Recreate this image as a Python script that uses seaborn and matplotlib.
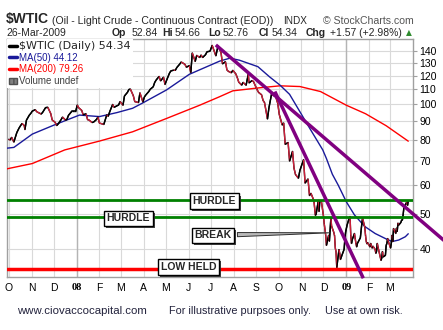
import numpy as np
import pandas as pd
import matplotlib
matplotlib.use("Agg")
import matplotlib.pyplot as plt
import matplotlib.dates as mdates
from matplotlib.collections import LineCollection
from matplotlib.lines import Line2D
from matplotlib.patches import Patch
from matplotlib.ticker import FixedLocator, FixedFormatter, NullLocator
import matplotlib.patheffects as pe
import seaborn as sns

# ---------------- data ----------------
price_dates = [
    "2007-10-01", "2007-10-03", "2007-10-05", "2007-10-08", "2007-10-10", "2007-10-12",
    "2007-10-15", "2007-10-17", "2007-10-19", "2007-10-22", "2007-10-23", "2007-10-25",
    "2007-10-29", "2007-10-31", "2007-11-02", "2007-11-06", "2007-11-08", "2007-11-12",
    "2007-11-14", "2007-11-16", "2007-11-20", "2007-11-23", "2007-11-27", "2007-11-29",
    "2007-12-03", "2007-12-05", "2007-12-07", "2007-12-11", "2007-12-13", "2007-12-17",
    "2007-12-19", "2007-12-21", "2007-12-26", "2007-12-28", "2007-12-31",
    "2008-01-02", "2008-01-04", "2008-01-08", "2008-01-10", "2008-01-14", "2008-01-16",
    "2008-01-18", "2008-01-22", "2008-01-24", "2008-01-28", "2008-01-30", "2008-02-01",
    "2008-02-05", "2008-02-07", "2008-02-11", "2008-02-13", "2008-02-15", "2008-02-19",
    "2008-02-21", "2008-02-25", "2008-02-27", "2008-02-29", "2008-03-04", "2008-03-06",
    "2008-03-10", "2008-03-12", "2008-03-14", "2008-03-18", "2008-03-20", "2008-03-25",
    "2008-03-27", "2008-03-31", "2008-04-02", "2008-04-04", "2008-04-08", "2008-04-10",
    "2008-04-14", "2008-04-16", "2008-04-18", "2008-04-22", "2008-04-24", "2008-04-28",
    "2008-04-30", "2008-05-02", "2008-05-06", "2008-05-08", "2008-05-12", "2008-05-14",
    "2008-05-16", "2008-05-20", "2008-05-22", "2008-05-27", "2008-05-29", "2008-06-02",
    "2008-06-04", "2008-06-06", "2008-06-10", "2008-06-12", "2008-06-16", "2008-06-18",
    "2008-06-20", "2008-06-24", "2008-06-26", "2008-06-30", "2008-07-03", "2008-07-08",
    "2008-07-11", "2008-07-15", "2008-07-17", "2008-07-21", "2008-07-23", "2008-07-25",
    "2008-07-29", "2008-07-31", "2008-08-04", "2008-08-06", "2008-08-08", "2008-08-12",
    "2008-08-14", "2008-08-18", "2008-08-21", "2008-08-22", "2008-08-26", "2008-08-28",
    "2008-09-02", "2008-09-04", "2008-09-08", "2008-09-10", "2008-09-12", "2008-09-16",
    "2008-09-18", "2008-09-22", "2008-09-24", "2008-09-26", "2008-09-30", "2008-10-02",
    "2008-10-06", "2008-10-08", "2008-10-10", "2008-10-14", "2008-10-16", "2008-10-20",
    "2008-10-22", "2008-10-24", "2008-10-28", "2008-10-30", "2008-11-04", "2008-11-06",
    "2008-11-10", "2008-11-12", "2008-11-14", "2008-11-18", "2008-11-20", "2008-11-21",
    "2008-11-24", "2008-11-25", "2008-11-26", "2008-11-28",
    "2008-12-01", "2008-12-02", "2008-12-04", "2008-12-05", "2008-12-08", "2008-12-09",
    "2008-12-11", "2008-12-12", "2008-12-15", "2008-12-16", "2008-12-17", "2008-12-18",
    "2008-12-19", "2008-12-22", "2008-12-23", "2008-12-24", "2008-12-26", "2008-12-29",
    "2008-12-30", "2008-12-31", "2009-01-02", "2009-01-05", "2009-01-06", "2009-01-07",
    "2009-01-08", "2009-01-09", "2009-01-12", "2009-01-13", "2009-01-14", "2009-01-15",
    "2009-01-16", "2009-01-20", "2009-01-21", "2009-01-22", "2009-01-23", "2009-01-26",
    "2009-01-27", "2009-01-28", "2009-01-29", "2009-01-30", "2009-02-02", "2009-02-03",
    "2009-02-04", "2009-02-05", "2009-02-06", "2009-02-09", "2009-02-10", "2009-02-11",
    "2009-02-12", "2009-02-13", "2009-02-17", "2009-02-18", "2009-02-19", "2009-02-20",
    "2009-02-23", "2009-02-24", "2009-02-25", "2009-02-26", "2009-02-27", "2009-03-02",
    "2009-03-03", "2009-03-04", "2009-03-05", "2009-03-06", "2009-03-09", "2009-03-10",
    "2009-03-11", "2009-03-12", "2009-03-13", "2009-03-16", "2009-03-17", "2009-03-18",
    "2009-03-19", "2009-03-20", "2009-03-23", "2009-03-24", "2009-03-25", "2009-03-26",
]
price_values = [
    80.2, 79.9, 81.2, 78.8, 81.3, 83.7,
    86.1, 87.4, 88.6, 87.6, 85.3, 90.5,
    93.5, 94.5, 95.9, 96.7, 95.5, 94.6,
    94.1, 95.1, 98.0, 98.2, 94.4, 90.6,
    89.3, 87.5, 88.3, 90.8, 92.3, 90.6,
    91.0, 93.3, 96.0, 96.0, 96.0,
    99.6, 97.9, 96.3, 93.7, 94.2, 90.8,
    90.6, 89.2, 89.4, 90.9, 92.3, 88.9,
    88.4, 88.1, 93.6, 92.8, 95.5, 100.0,
    98.2, 99.2, 99.6, 101.8, 99.5, 105.5,
    107.9, 109.9, 110.2, 105.7, 101.8, 101.2,
    107.6, 101.6, 104.8, 106.2, 108.5, 110.1,
    111.8, 114.9, 116.7, 119.4, 116.1, 118.8,
    113.5, 116.3, 121.8, 123.7, 124.2, 124.1,
    126.3, 129.1, 130.8, 128.9, 126.6, 127.8,
    122.3, 138.5, 131.3, 136.4, 134.6, 136.7,
    134.6, 137.0, 139.6, 140.0, 145.3, 136.0,
    145.1, 138.7, 129.3, 131.0, 124.4, 123.3,
    122.2, 124.1, 121.4, 118.6, 115.2, 113.0,
    115.0, 112.9, 121.2, 114.6, 116.3, 115.6,
    109.7, 107.9, 106.3, 102.6, 101.2, 91.2,
    97.9, 108.0, 105.7, 106.9, 100.6, 93.9,
    87.8, 88.9, 77.7, 78.6, 69.9, 74.3,
    66.8, 64.2, 62.7, 65.9, 70.5, 60.8,
    62.4, 56.2, 57.0, 54.4, 49.6, 49.9,
    54.5, 50.8, 54.4, 54.4,
    49.3, 47.0, 43.7, 41.0, 43.7, 42.1,
    48.7, 46.3, 44.5, 43.6, 40.3, 39.4,
    35.6, 39.9, 39.0, 37.5, 38.5, 40.0,
    42.8, 44.6, 46.6, 48.8, 49.2, 43.7,
    41.5, 42.5, 44.2, 42.8, 41.5, 40.6,
    41.5, 43.0, 45.1, 47.0, 48.7, 46.0,
    43.7, 42.0, 41.4, 41.7, 40.6, 41.5,
    40.8, 40.3, 40.8, 40.0, 39.0, 39.5,
    41.5, 40.5, 37.3, 37.8, 39.4, 38.1,
    38.5, 41.0, 41.5, 42.8, 42.0, 40.3,
    41.6, 43.7, 42.0, 45.6, 44.2, 45.7,
    44.8, 47.2, 46.6, 47.4, 48.1, 48.1,
    49.7, 51.9, 53.5, 53.9, 52.8, 54.34,
]

ma50_dates = [
    "2007-09-28", "2007-10-08", "2007-11-02", "2007-12-04", "2008-01-05", "2008-02-01",
    "2008-02-25", "2008-03-17", "2008-03-31", "2008-05-02", "2008-06-02", "2008-06-16",
    "2008-07-13", "2008-07-27", "2008-08-09", "2008-09-03", "2008-09-19", "2008-10-03",
    "2008-10-16", "2008-10-30", "2008-11-12", "2008-11-30", "2008-12-05", "2008-12-13",
    "2008-12-21", "2009-01-01", "2009-01-12", "2009-01-26", "2009-02-09", "2009-02-23",
    "2009-03-04", "2009-03-13", "2009-03-22", "2009-03-26",
]
ma50_values = [
    75.8, 76.2, 82.9, 88.2, 93.5, 92.6,
    95.0, 97.6, 101.0, 109.6, 121.0, 124.5,
    131.5, 134.0, 132.3, 127.0, 119.0, 113.0,
    106.6, 95.5, 86.2, 75.0, 71.0, 64.3,
    60.0, 54.0, 49.7, 46.2, 44.2, 42.8,
    42.0, 42.4, 43.3, 44.12,
]

ma200_dates = [
    "2007-09-28", "2007-11-02", "2007-12-16", "2008-02-01", "2008-03-17", "2008-05-02",
    "2008-06-16", "2008-07-13", "2008-07-31", "2008-09-05", "2008-10-03", "2008-10-30",
    "2008-11-27", "2009-01-01", "2009-01-27", "2009-02-24", "2009-03-26",
]
ma200_values = [
    66.5, 68.8, 75.0, 79.3, 84.1, 91.5,
    99.5, 105.0, 109.0, 111.1, 112.5, 112.0,
    108.5, 99.5, 94.3, 87.4, 79.26,
]

hurdle_levels = [54.6, 49.1]
low_held_level = 35.4

trend_a_dates = ["2008-07-08", "2009-05-20"]
trend_a_values = [145.7, 41.2]
trend_b_dates = ["2008-09-26", "2009-01-24"]
trend_b_values = [108.5, 33.3]

month_labels = ["O", "N", "D", "08", "F", "M", "A", "M", "J", "J", "A", "S",
                "O", "N", "D", "09", "F", "M"]
ytick_values = [40, 50, 60, 70, 80, 90, 100, 110, 120, 130, 140]

legend_labels = ["$WTIC (Daily) 54.34", "MA(50) 44.12", "MA(200) 79.26", "Volume undef"]

# ---------------- styling ----------------
sns.set_style("white")
plt.rcParams["font.family"] = ["Liberation Sans", "DejaVu Sans"]

W, H = 443, 330
fig = plt.figure(figsize=(W / 100, H / 100), dpi=100)
fig.patch.set_facecolor("white")
ax = fig.add_axes([7 / W, 1 - 277 / H, 406 / W, 238 / H])


def fx(px):
    return px / W


def fy(py):
    return 1 - py / H


price = pd.DataFrame({"date": pd.to_datetime(price_dates), "close": price_values})
ma50 = pd.DataFrame({"date": pd.to_datetime(ma50_dates), "ma": ma50_values})
ma200 = pd.DataFrame({"date": pd.to_datetime(ma200_dates), "ma": ma200_values})

ax.set_yscale("log")

sns.lineplot(data=ma200, x="date", y="ma", color="#ff0000", lw=1.0, ax=ax, zorder=3)
sns.lineplot(data=ma50, x="date", y="ma", color="#1a1a9a", lw=1.0, ax=ax, zorder=3)
sns.lineplot(data=price, x="date", y="close", color="black", lw=1.0, ax=ax, zorder=4)

# colour the down days red, like the original
xs = mdates.date2num(price["date"])
ys = price["close"].to_numpy()
segs = np.stack([np.column_stack([xs[:-1], ys[:-1]]), np.column_stack([xs[1:], ys[1:]])], axis=1)
cols = ["#cc1f3a" if ys[i + 1] < ys[i] else "black" for i in range(len(ys) - 1)]
ax.add_collection(LineCollection(segs, colors=cols, linewidths=1.0, zorder=4))

for lv in hurdle_levels:
    ax.axhline(lv, color="#008000", lw=2.0, zorder=5)
ax.axhline(low_held_level, color="#ff0000", lw=2.5, zorder=5)

ax.plot(pd.to_datetime(trend_a_dates), trend_a_values, color="#800080", lw=2.5,
        clip_on=False, zorder=6, solid_capstyle="butt")
ax.plot(pd.to_datetime(trend_b_dates), trend_b_values, color="#800080", lw=2.5,
        clip_on=False, zorder=6, solid_capstyle="butt")

ax.set_xlim(pd.Timestamp("2007-09-28 16:00"), pd.Timestamp("2009-04-01 10:00"))
ax.set_ylim(33.56, 151.3)

month_ticks = pd.date_range("2007-10-01", periods=len(month_labels), freq="MS")
ax.xaxis.set_major_locator(FixedLocator(mdates.date2num(month_ticks)))
ax.xaxis.set_major_formatter(FixedFormatter(month_labels))
ax.yaxis.set_major_locator(FixedLocator(ytick_values))
ax.yaxis.set_major_formatter(FixedFormatter([str(v) for v in ytick_values]))
ax.yaxis.set_minor_locator(NullLocator())
ax.xaxis.set_minor_locator(NullLocator())

ax.grid(True, which="major", color="#d9d9d9", lw=0.8, zorder=0)
for yr in ["2008-01-01", "2009-01-01"]:
    ax.axvline(pd.Timestamp(yr), color="#b4b4b4", lw=1.0, zorder=1)
ax.set_axisbelow(True)

for s in ax.spines.values():
    s.set_color("#a0a0a0")
    s.set_linewidth(1.0)

ax.tick_params(axis="x", direction="out", length=3, color="#a0a0a0", pad=1.5,
               labelsize=7.5, labelcolor="black")
ax.tick_params(axis="y", direction="out", length=3, color="#a0a0a0", pad=1.5,
               left=False, right=True, labelleft=False, labelright=True,
               labelsize=7.5, labelcolor="black")
for lbl in ax.get_xticklabels():
    if lbl.get_text() in ("08", "09"):
        lbl.set_fontweight("bold")
        lbl.set_family("Liberation Serif")
ax.set_xlabel("")
ax.set_ylabel("")

# legend
handles = [Line2D([], [], color="black", lw=2.5),
           Line2D([], [], color="#1a1a9a", lw=2.5),
           Line2D([], [], color="#ff0000", lw=2.5),
           Patch(facecolor="#808080", edgecolor="#505050", hatch="|||")]
leg = ax.legend(handles, legend_labels, loc="upper left", bbox_to_anchor=(0, 1),
                borderaxespad=0, frameon=True, fancybox=False, framealpha=1,
                facecolor="white", edgecolor="none", fontsize=7.0,
                handlelength=0.8, handleheight=0.6, handletextpad=0.25,
                labelspacing=0.18, borderpad=0.2)
leg.set_zorder(7)
txts = leg.get_texts()
txts[0].set_fontsize(8)
txts[0].set_family("DejaVu Sans")
txts[1].set_color("#1a1a9a")
txts[2].set_color("#ff0000")
txts[3].set_color("#404040")

# annotation boxes
shadow = [pe.SimplePatchShadow(offset=(1.5, -1.5), shadow_rgbFace="#303030", alpha=0.9),
          pe.Normal()]
box = dict(boxstyle="square,pad=0.25", fc="white", ec="black", lw=1)


def label(text, xf, yf):
    t = ax.text(xf, yf, text, transform=ax.transAxes, ha="center", va="center",
                fontsize=7.5, fontweight="bold", bbox=box, zorder=10)
    t.get_bbox_patch().set_path_effects(shadow)
    return t


label("HURDLE", 0.511, 0.319)
label("HURDLE", 0.2988, 0.246)
label("LOW HELD", 0.4466, 0.042)
brk = ax.annotate("BREAK", xy=(0.803, 0.186), xycoords="axes fraction",
                  xytext=(0.5074, 0.176), textcoords="axes fraction",
                  ha="center", va="center", fontsize=7.5, fontweight="bold",
                  bbox=box, zorder=10,
                  arrowprops=dict(arrowstyle="wedge,tail_width=0.4,shrink_factor=0.5",
                                  fc="#b8b8b8", ec="#303030", lw=0.7))
brk.get_bbox_patch().set_path_effects(shadow)

# header
fig.text(fx(6.0), fy(23.5), "$WTIC", fontsize=10, fontweight="bold", va="baseline")
fig.text(fx(52.5), fy(23.5), "(Oil - Light Crude - Continuous Contract (EOD))",
         fontsize=7.6, va="baseline")
fig.text(fx(282.7), fy(23.5), "INDX", fontsize=7.2, va="baseline")
fig.text(fx(323.3), fy(23.5), "\u00a9 StockCharts.com", fontsize=7.6, va="baseline",
         color="#555555")
fig.text(fx(6.7), fy(35.5), "26-Mar-2009", fontsize=7.5, va="baseline")
pieces = [(111.7, "Op", True), (131.7, "52.84", False), (162.3, "Hi", True),
          (175.0, "54.66", False), (208.3, "Lo", True), (222.7, "52.76", False),
          (258.3, "Cl", True), (271.7, "54.34", False), (306.0, "Chg", True),
          (330.0, "+1.57 (+2.98%)", False)]
for px, s, b in pieces:
    fig.text(fx(px), fy(35.5), s, fontsize=7.5, va="baseline",
             fontweight="bold" if b else "normal")
fig.text(fx(405.5), fy(35.5), "\u25b2", fontsize=5.5, va="baseline", color="#2e8b2e",
         family="DejaVu Sans")

# footer
foot_color = "#22223c"
fig.text(fx(17.3), fy(314), "www.ciovaccocapital.com", fontsize=8.2, va="baseline",
         color=foot_color)
fig.text(fx(169.3), fy(314), "For illustrative purpsoes only.", fontsize=7.8,
         va="baseline", color=foot_color)
fig.text(fx(325), fy(314), "Use at own risk.", fontsize=7.8, va="baseline",
         color=foot_color)

fig.savefig("out.png", dpi=100)
